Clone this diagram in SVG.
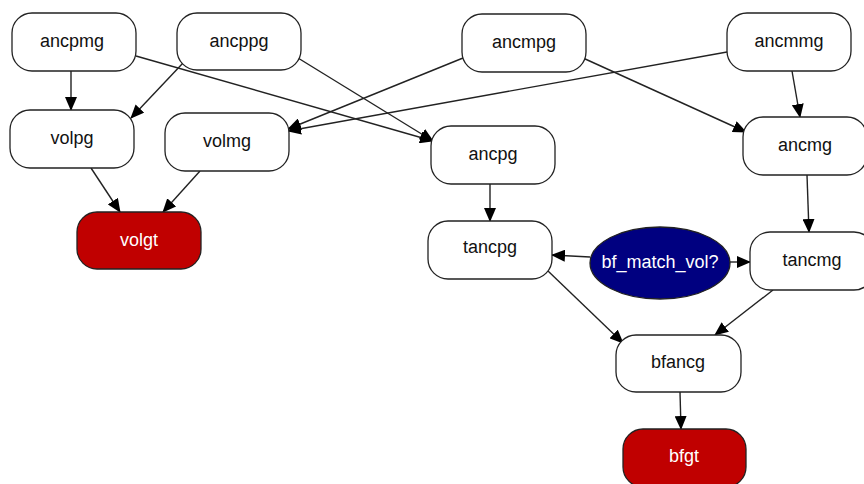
<svg xmlns="http://www.w3.org/2000/svg" width="864" height="484" viewBox="0 0 864 484">
<style>
.n rect{fill:#fff;stroke:#222;stroke-width:1.3}
.n text{font-family:"Liberation Sans",Arial,sans-serif;font-size:18px;fill:#111;text-anchor:middle}
.r rect{fill:#c00000}
.r text,.b text{fill:#fff}
.b ellipse{fill:#000080;stroke:#222;stroke-width:1.3}
.e line{stroke:#222;stroke-width:1.4;marker-end:url(#ah)}
</style>
<defs>
<marker id="ah" markerUnits="userSpaceOnUse" markerWidth="14" markerHeight="12" refX="13" refY="6" orient="auto" viewBox="0 0 14 12">
<path d="M0,0 L14,6 L0,12 z" fill="#000"/>
</marker>
</defs>
<rect width="864" height="484" fill="#fff"/>
<g class="e" id="edges">
<line x1="71" y1="71" x2="71" y2="110"/>
<line x1="183" y1="63" x2="131" y2="118"/>
<line x1="136" y1="56" x2="433" y2="141"/>
<line x1="298" y1="58" x2="433" y2="141"/>
<line x1="463" y1="58" x2="288" y2="129"/>
<line x1="727" y1="52" x2="288" y2="131"/>
<line x1="583" y1="58" x2="746" y2="132"/>
<line x1="792" y1="71" x2="800" y2="117"/>
<line x1="490" y1="184" x2="490" y2="221"/>
<line x1="807" y1="175" x2="809" y2="232"/>
<line x1="91" y1="168" x2="120" y2="212"/>
<line x1="200" y1="171" x2="163" y2="212"/>
<line x1="590" y1="257" x2="552" y2="255"/>
<line x1="730" y1="262" x2="750" y2="262"/>
<line x1="548" y1="271" x2="623" y2="343"/>
<line x1="773" y1="290" x2="715" y2="335"/>
<line x1="680" y1="392" x2="681" y2="429"/>
</g>
<g class="n" id="ancpmg"><rect x="12" y="13" width="124" height="58" rx="20"/><text x="72" y="47">ancpmg</text></g>
<g class="n" id="ancppg"><rect x="177" y="13" width="124" height="57" rx="20"/><text x="239" y="47">ancppg</text></g>
<g class="n" id="ancmpg"><rect x="462" y="14" width="124" height="58" rx="20"/><text x="524" y="48">ancmpg</text></g>
<g class="n" id="ancmmg"><rect x="727" y="13" width="124" height="58" rx="20"/><text x="789" y="47">ancmmg</text></g>
<g class="n" id="volpg"><rect x="10" y="110" width="124" height="58" rx="20"/><text x="72" y="144">volpg</text></g>
<g class="n" id="volmg"><rect x="165" y="113" width="124" height="58" rx="20"/><text x="227" y="147">volmg</text></g>
<g class="n" id="ancpg"><rect x="431" y="126" width="124" height="58" rx="20"/><text x="493" y="160">ancpg</text></g>
<g class="n" id="ancmg"><rect x="743" y="117" width="124" height="58" rx="20"/><text x="805" y="151">ancmg</text></g>
<g class="n r" id="volgt"><rect x="77" y="212" width="124" height="57" rx="20"/><text x="139" y="246">volgt</text></g>
<g class="n" id="tancpg"><rect x="428" y="221" width="124" height="58" rx="20"/><text x="490" y="253">tancpg</text></g>
<g class="n b" id="bf_match_vol"><ellipse cx="660" cy="263" rx="70" ry="36"/><text x="660" y="268">bf_match_vol?</text></g>
<g class="n" id="tancmg"><rect x="750" y="232" width="124" height="58" rx="20"/><text x="812" y="266">tancmg</text></g>
<g class="n" id="bfancg"><rect x="616" y="335" width="125" height="57" rx="20"/><text x="678" y="368">bfancg</text></g>
<g class="n r" id="bfgt"><rect x="623" y="429" width="123" height="58" rx="20"/><text x="684" y="462">bfgt</text></g>
</svg>
